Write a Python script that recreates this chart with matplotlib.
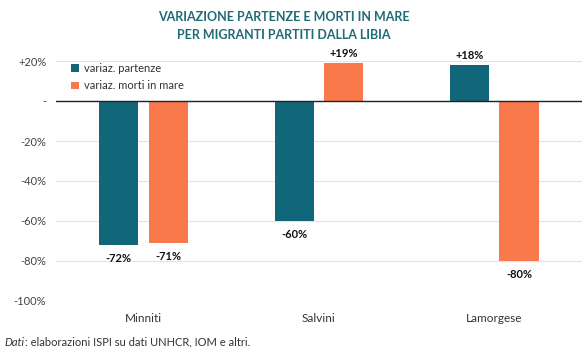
import numpy as np
import matplotlib.pyplot as plt

plt.rcParams['font.family'] = ['Lato', 'DejaVu Sans']

categories = ["Minniti", "Salvini", "Lamorgese"]
partenze = [-72, -60, 18]
morti = [-71, 19, -80]
series_names = ["variaz. partenze", "variaz. morti in mare"]
yticks = [20, 0, -20, -40, -60, -80, -100]
ytick_labels = ["+20%", "-", "-20%", "-40%", "-60%", "-80%", "-100%"]

teal = "#12667a"
orange = "#f9794d"

fig = plt.figure(figsize=(5.82, 3.57), dpi=100)
ax = fig.add_axes([0.096, 0.157, 0.904, 0.672])

x = np.arange(len(categories))
w = 0.223
off = 0.141
b1 = ax.bar(x - off, partenze, w, color=teal, label=series_names[0], zorder=3)
b2 = ax.bar(x + off, morti, w, color=orange, label=series_names[1], zorder=3)

for bars, vals in ((b1, partenze), (b2, morti)):
    for rect, v in zip(bars, vals):
        cx = rect.get_x() + rect.get_width() / 2
        txt = f"+{v}%" if v > 0 else f"{v}%"
        dy = 7 if v > 0 else -10
        ax.annotate(txt, (cx, v), xytext=(0, dy), textcoords="offset points",
                    ha="center", va="center", fontsize=8, fontweight="bold",
                    color="#111111", annotation_clip=False)

ax.set_xlim(-0.5, 2.5)
ax.set_ylim(-100, 20)
ax.set_yticks(yticks)
ax.set_yticklabels(ytick_labels, fontsize=8, color="#444444")
ax.set_xticks(x)
ax.set_xticklabels(categories, fontsize=8.5, color="#333333")
ax.tick_params(axis="both", length=0)
ax.tick_params(axis="y", pad=7)
ax.tick_params(axis="x", pad=9)
ax.grid(axis="y", color="#e3e3e3", linewidth=0.8, zorder=0)
ax.axhline(0, color="#222222", linewidth=1, zorder=4)
for s in ax.spines.values():
    s.set_visible(False)

leg = ax.legend(loc="upper left", bbox_to_anchor=(0.01, 1.035), frameon=False,
                fontsize=8, handlelength=0.7, handleheight=0.7,
                handletextpad=0.5, labelspacing=0.6)
for t in leg.get_texts():
    t.set_color("#333333")

fig.text(0.487, 0.953, "VARIAZIONE PARTENZE E MORTI IN MARE", ha="center",
         va="center", fontsize=9, fontweight="bold", color="#1f6b78")
fig.text(0.487, 0.902, "PER MIGRANTI PARTITI DALLA LIBIA", ha="center",
         va="center", fontsize=9, fontweight="bold", color="#1f6b78")

# footnote: italic "Dati" followed by regular text
t1 = fig.text(0.008, 0.042, "Dati", ha="left", va="center", fontsize=8,
              style="italic", color="#333333")
fig.canvas.draw()
bb = t1.get_window_extent()
fig.text((bb.x1 + 0.5) / fig.bbox.width, 0.042,
         ": elaborazioni ISPI su dati UNHCR, IOM e altri.",
         ha="left", va="center", fontsize=8, color="#333333")

fig.savefig("out.png", dpi=100)
